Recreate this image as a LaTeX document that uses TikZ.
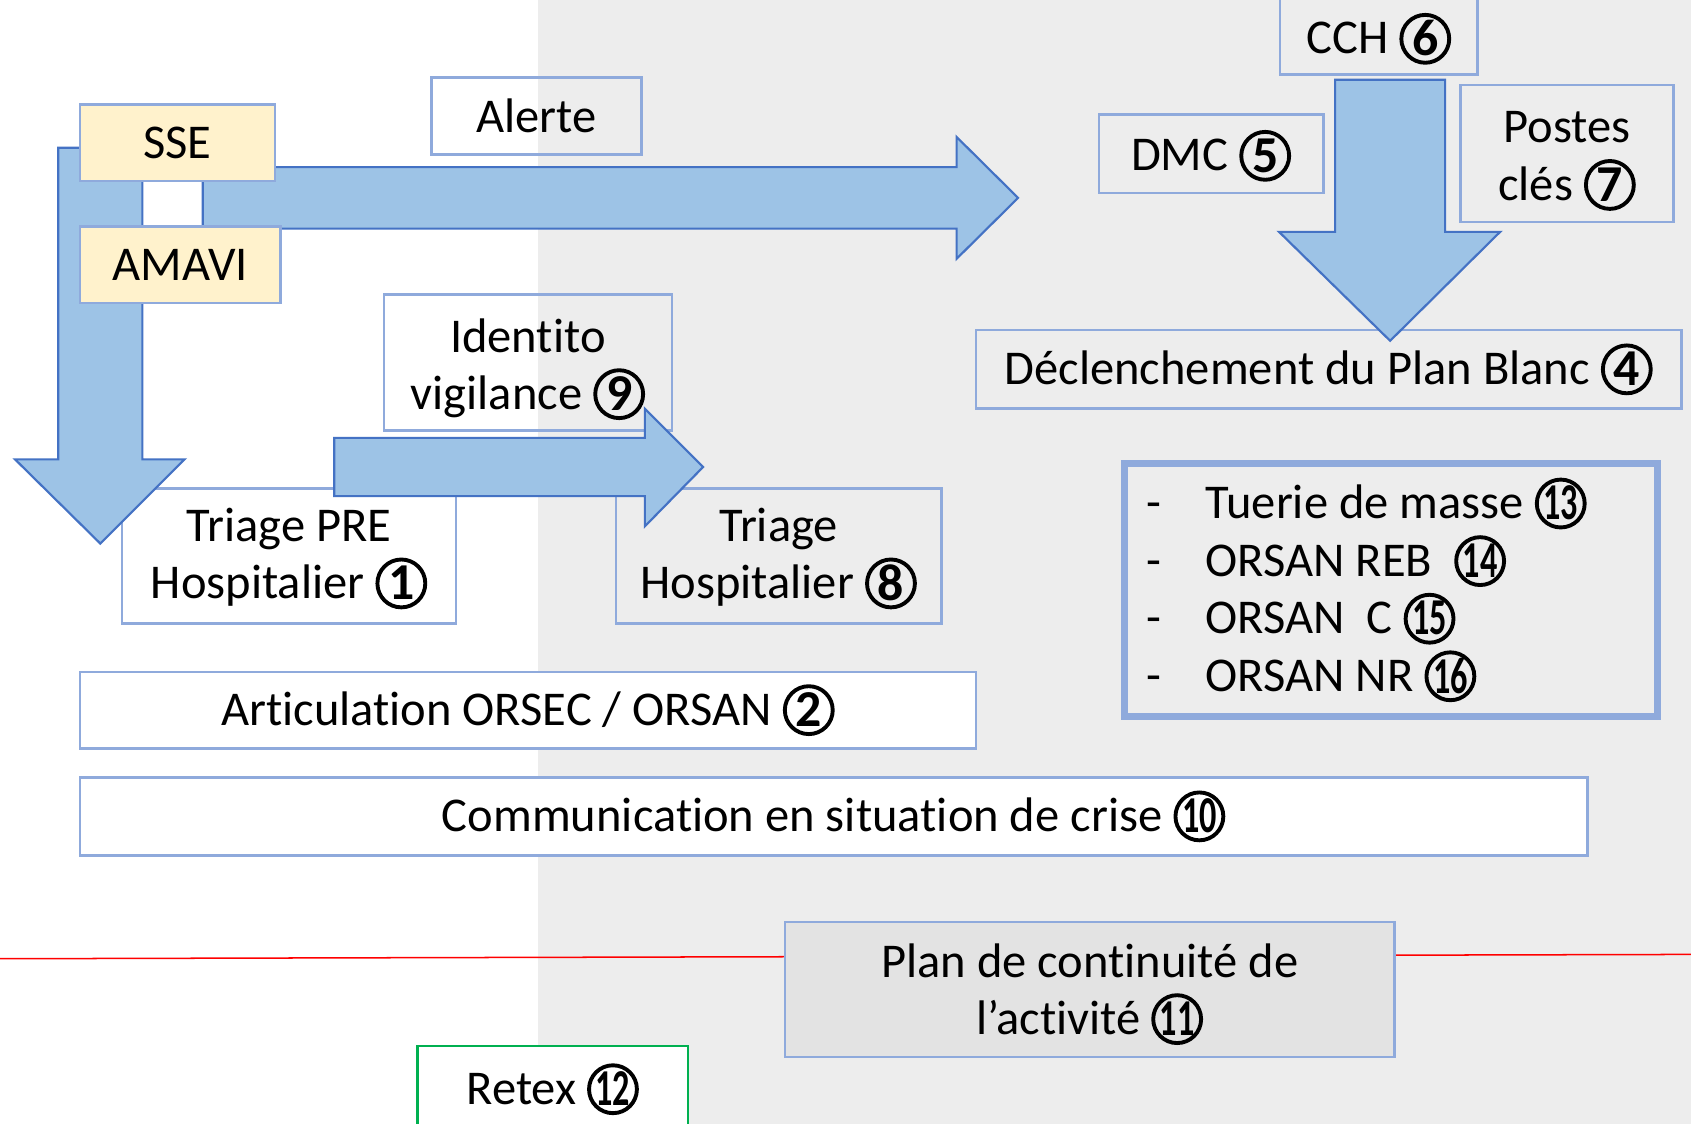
\documentclass[tikz,border=0pt]{standalone}
\usepackage{fontspec}
\setmainfont{Carlito}[Ligatures=NoCommon]
\usepackage{graphicx}
\usepackage{pict2e}
\definecolor{boxblue}{HTML}{8FAADC}
\definecolor{arrowfill}{HTML}{9DC3E6}
\definecolor{arrowline}{HTML}{4472C4}
\definecolor{yellowfill}{HTML}{FFF2CC}
\definecolor{bggray}{HTML}{EDEDED}
\definecolor{pcagray}{HTML}{E3E3E3}
\definecolor{retexgreen}{HTML}{00B050}
\newcommand\fz{\fontsize{22.5pt}{26.5pt}\selectfont}
\newcommand\st[1]{\rule{0pt}{#1}}
\newcommand\cn[1]{\raisebox{-5pt}{\setlength{\unitlength}{1pt}\begin{picture}(24,24)\put(12,12){\linethickness{1.8pt}\circle{22.2}}\put(12,12.2){\makebox(0,0){\fontsize{24pt}{24pt}\selectfont\bfseries #1}}\end{picture}}}
\newcommand\cnn[1]{\raisebox{-5pt}{\setlength{\unitlength}{1pt}\begin{picture}(24,24)\put(12,12){\linethickness{1.8pt}\circle{22.2}}\put(12,12.2){\makebox(0,0){\scalebox{0.66}[1]{\fontsize{24pt}{24pt}\selectfont\bfseries #1}}}\end{picture}}}
\begin{document}
\begin{tikzpicture}[x=0.5pt,y=-0.5pt,
  box/.style={draw=boxblue, line width=1.2pt, inner sep=0pt, align=center, font=\fz},
  blockarrow/.style={fill=arrowfill, draw=arrowline, line width=1pt, line join=miter}]
\useasboundingbox (0,0) rectangle (1568,1042);
\clip (0,0) rectangle (1568,1042);
\fill[white] (0,0) rectangle (1568,1042);
\fill[bggray] (499,0) rectangle (1568,1042);
% red line
\coordinate (rl) at (0,889);
\coordinate (rr) at (1568,885);
\draw[red, line width=0.7pt] (rl) -- (rr);
% boxes
\node[box, minimum width=97.5pt, minimum height=35.5pt] (alerte) at (497.5,107.5) {Alerte};
\node[box, minimum width=133.5pt, minimum height=63pt] (ident) at (489.5,336) {\st{22pt}Identito\\vigilance \cn{9}};
\node[box, minimum width=155pt, minimum height=62.5pt] (tpre) at (268,515.5) {\st{18pt}Triage PRE\\Hospitalier \cn{1}};
\node[box, minimum width=151pt, minimum height=62.5pt] (thosp) at (722,515.5) {\st{18pt}Triage\\Hospitalier \cn{8}};
\node[box, fill=white, minimum width=415.5pt, minimum height=35.5pt] (artic) at (489.5,658.5) {Articulation ORSEC / ORSAN \cn{2}};
\node[box, fill=white, minimum width=699pt, minimum height=36pt] (comm) at (773,757) {Communication en situation de crise \cnn{10}};
\node[box, minimum width=91.5pt, minimum height=36pt] (cch) at (1278.5,33) {\st{22pt}CCH \cn{6}};
\node[box, minimum width=104pt, minimum height=36.5pt] (dmc) at (1123,142.5) {\st{21pt}DMC \cn{5}};
\node[box, minimum width=99pt, minimum height=63.5pt] (postes) at (1453,142.5) {\st{21.5pt}Postes\\clés \cn{7}};
\node[box, minimum width=327pt, minimum height=36.5pt] (plan) at (1232,342.5) {Déclenchement du Plan Blanc \cn{4}};
\node[box, line width=3.2pt, text width=227pt, align=flush left, inner xsep=10pt, minimum height=117pt, font=\fontsize{22.5pt}{26.7pt}\selectfont] (orsan) at (1290,547)
 {\makebox[27.5pt][l]{-}Tuerie de masse \cnn{13}\\
  \makebox[27.5pt][l]{-}ORSAN REB\ \ \cnn{14}\\
  \makebox[27.5pt][l]{-}ORSAN\ \ C \cnn{15}\\
  \makebox[27.5pt][l]{-}ORSAN NR \cnn{16}};
\node[box, fill=pcagray, minimum width=282.5pt, minimum height=62.5pt] (pca) at (1010.5,917.5) {\st{20pt}Plan de continuité de\\l’activité \cnn{11}};
\node[box, draw=retexgreen, fill=white, minimum width=125.5pt, minimum height=40pt] (retex) at (512.5,1010) {Retex \cnn{12}};
% block arrows
\draw[blockarrow] (54,137) -- (132,137) -- (132,426) -- (171,426) -- (93,504) -- (14,426) -- (54,426) -- cycle;
\draw[blockarrow] (188,155) -- (887,155) -- (887,127) -- (944,183.5) -- (887,240) -- (887,212) -- (188,212) -- cycle;
\draw[blockarrow] (310,406) -- (598,406) -- (598,379) -- (652,433) -- (598,488) -- (598,460) -- (310,460) -- cycle;
\draw[blockarrow] (1238,74) -- (1340,74) -- (1340,215) -- (1391,215) -- (1289,316) -- (1186,215) -- (1238,215) -- cycle;
% top-left boxes
\node[box, fill=yellowfill, minimum width=90.5pt, minimum height=35.5pt] (sse) at (164.5,132.5) {SSE};
\node[box, fill=yellowfill, minimum width=93pt, minimum height=35.5pt] (amavi) at (167,245.5) {AMAVI};
\end{tikzpicture}
\end{document}
